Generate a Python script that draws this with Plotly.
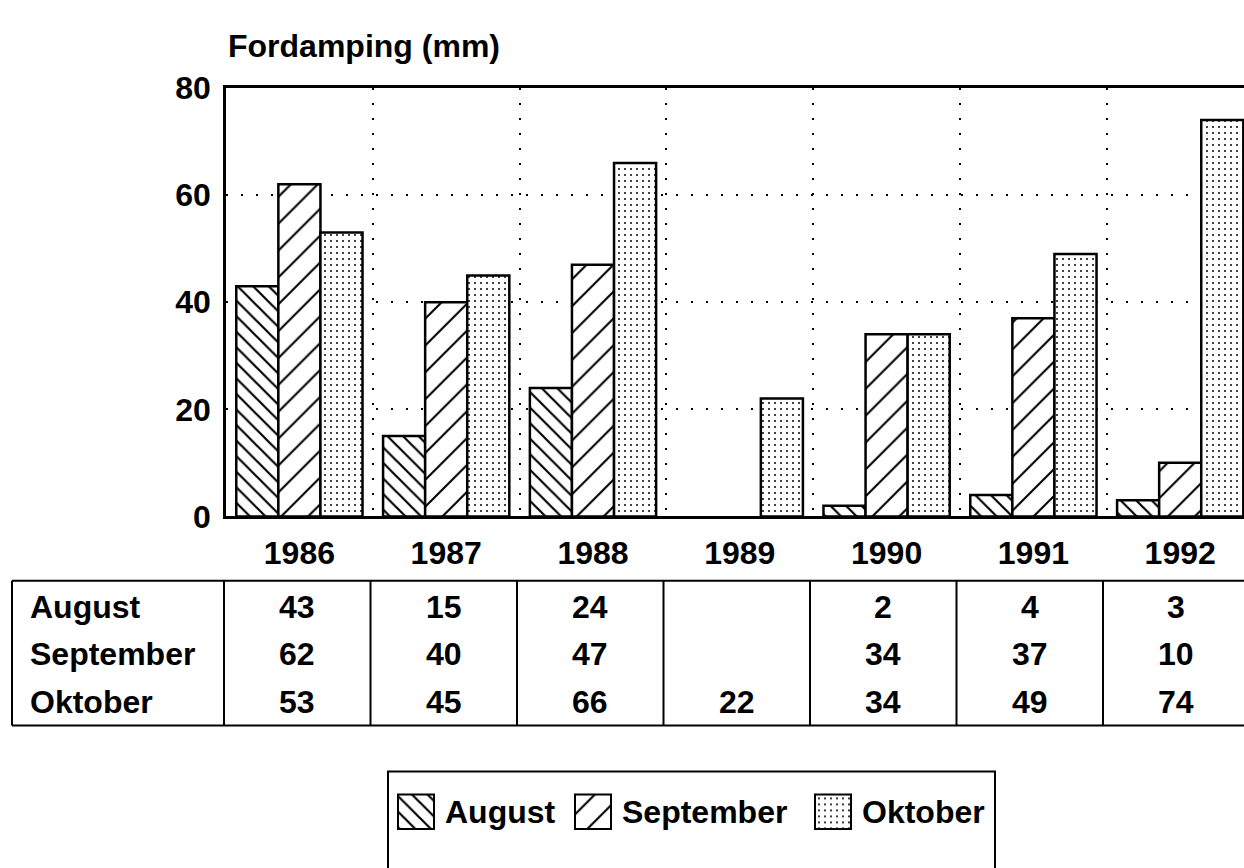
import plotly.graph_objects as go

# Fordamping (evaporation) per month, mm
years = ["1986", "1987", "1988", "1989", "1990", "1991", "1992"]
august = [43, 15, 24, None, 2, 4, 3]
september = [62, 40, 47, None, 34, 37, 10]
oktober = [53, 45, 66, 22, 34, 49, 74]
months = ["August", "September", "Oktober"]
y_ticks = [0, 20, 40, 60, 80]

W, H = 1244, 868
FONT = "Liberation Sans, Arial, Helvetica, sans-serif"


def px(x):
    return x / W


def py(y):
    return 1 - y / H


# plot area in pixels
PL, PR, PT, PB = 226, 1244, 73, 520
GROUP = 146.8

patterns = {
    "August": dict(shape="\\", size=11, solidity=0.2, fgcolor="black",
                   bgcolor="white", fgopacity=1),
    "September": dict(shape="/", size=19, solidity=0.11, fgcolor="black",
                      bgcolor="white", fgopacity=1),
    "Oktober": dict(shape=".", size=6, solidity=0.09, fgcolor="black",
                    bgcolor="white", fgopacity=1),
}
series = {"August": august, "September": september, "Oktober": oktober}

fig = go.Figure()
for m in months:
    fig.add_trace(go.Bar(
        x=years, y=series[m], name=m, showlegend=False,
        marker=dict(color="white", pattern=patterns[m],
                    line=dict(color="black", width=2.5)),
        xaxis="x", yaxis="y",
    ))

n_span = (PR - PL) / GROUP
fig.update_layout(
    width=W, height=H,
    margin=dict(l=0, r=0, t=0, b=0),
    paper_bgcolor="white", plot_bgcolor="white",
    barmode="group", bargap=0.14, bargroupgap=0,
    font=dict(family=FONT, size=32, color="black"),
    xaxis=dict(
        domain=[px(PL), px(PR)], anchor="y",
        type="category", range=[-0.5, -0.5 + n_span],
        tickson="boundaries", ticks="",
        showgrid=True, gridcolor="black", gridwidth=1.5, griddash="2px,13px",
        showline=True, linecolor="black", linewidth=2.5, mirror=True,
        tickfont=dict(family=FONT, size=32, weight="bold"),
        ticklabelstandoff=6,
    ),
    yaxis=dict(
        domain=[py(PB), py(PT)], anchor="x",
        range=[0, 80], tickvals=y_ticks, ticks="",
        showgrid=True, gridcolor="black", gridwidth=1.5, griddash="2px,13px",
        zeroline=False,
        showline=True, linecolor="black", linewidth=2.5,
        tickfont=dict(family=FONT, size=32, weight="bold"),
        ticklabelstandoff=6,
    ),
    xaxis2=dict(domain=[0, 1], range=[0, W], anchor="y2", visible=False, fixedrange=True),
    yaxis2=dict(domain=[0, py(786)], range=[H, 786], anchor="x2", visible=False, fixedrange=True),
)

shapes = []
annotations = []

# axis title
annotations.append(dict(
    text="Fordamping (mm)", xref="paper", yref="paper",
    x=px(226), y=py(29), xanchor="left", yanchor="middle", showarrow=False,
    font=dict(family=FONT, size=32, weight="bold"),
))

# data table under the chart
T_TOP, T_BOT, T_LEFT, T_COL0 = 587, 738, 12, 224
T_COLW = 146.5
row_y = [614, 664, 714]
line = dict(color="black", width=2)
shapes.append(dict(type="line", xref="paper", yref="paper",
                   x0=px(T_LEFT), x1=px(W + 5), y0=py(T_TOP), y1=py(T_TOP), line=line))
shapes.append(dict(type="line", xref="paper", yref="paper",
                   x0=px(T_LEFT), x1=px(W + 5), y0=py(T_BOT), y1=py(T_BOT), line=line))
col_edges = [T_LEFT] + [T_COL0 + i * T_COLW for i in range(len(years))]
for xe in col_edges:
    shapes.append(dict(type="line", xref="paper", yref="paper",
                       x0=px(xe), x1=px(xe), y0=py(T_TOP), y1=py(T_BOT), line=line))

for r, m in enumerate(months):
    annotations.append(dict(
        text=m, xref="paper", yref="paper", x=px(28), y=py(row_y[r]),
        xanchor="left", yanchor="middle", showarrow=False,
        font=dict(family=FONT, size=32, weight="bold"),
    ))
    for c, v in enumerate(series[m]):
        if v is None:
            continue
        annotations.append(dict(
            text=str(v), xref="paper", yref="paper",
            x=px(T_COL0 + (c + 0.5) * T_COLW), y=py(row_y[r]),
            xanchor="center", yanchor="middle", showarrow=False,
            font=dict(family=FONT, size=32, weight="bold"),
        ))

# legend box with patterned swatches
LEG_L, LEG_R, LEG_T = 388, 995, 786
shapes.append(dict(type="rect", xref="paper", yref="paper",
                   x0=px(LEG_L), x1=px(LEG_R), y0=py(LEG_T), y1=py(H + 20),
                   line=line, fillcolor="rgba(0,0,0,0)"))
swatch_x = [416, 593, 833]
text_x = [443, 620, 860]
SW = 36
for m, sx, tx in zip(months, swatch_x, text_x):
    fig.add_trace(go.Bar(
        x=[sx], y=[SW], base=[810], width=[SW], showlegend=False,
        marker=dict(color="white", pattern=patterns[m],
                    line=dict(color="black", width=2)),
        xaxis="x2", yaxis="y2", hoverinfo="skip",
    ))
    annotations.append(dict(
        text=m, xref="paper", yref="paper", x=px(tx), y=py(828),
        xanchor="left", yanchor="middle", showarrow=False,
        font=dict(family=FONT, size=32, weight="bold"),
    ))

fig.update_layout(shapes=shapes, annotations=annotations)
fig.write_html("out.html")
